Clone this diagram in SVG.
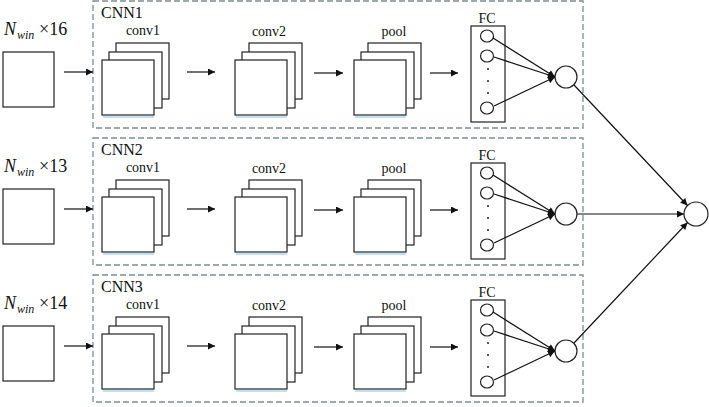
<svg xmlns="http://www.w3.org/2000/svg" width="709" height="407" viewBox="0 0 709 407">
<style>
text{font-family:"Liberation Serif","Times New Roman",serif;fill:#111}
.lbl{font-size:14px;text-anchor:middle}
.cnn{font-size:16px}
.big{font-size:18px}
.sub{font-size:12px;font-style:italic}
.it{font-style:italic}
.box{fill:#fff;stroke:#222;stroke-width:1.2}
.dash{fill:none;stroke:#7d8e92;stroke-width:1.3;stroke-dasharray:6 3}
.ln{stroke:#111;stroke-width:1.2;fill:none}
.sh{stroke:#bfe0f5;stroke-width:2;fill:none}
.dot{fill:#222}
</style>
<defs>
<marker id="ah" viewBox="0 0 10 10" refX="10" refY="5" markerWidth="9" markerHeight="7" markerUnits="userSpaceOnUse" orient="auto">
<path d="M0,0 L10,5 L0,10 z" fill="#111"/>
</marker>
<g id="stack">
<rect class="box" x="14" y="-17" width="53" height="56"/>
<rect class="box" x="7" y="-8" width="53" height="56"/>
<line class="sh" x1="1" y1="57" x2="52" y2="57"/>
<rect class="box" x="0" y="0" width="52" height="55"/>
</g>
<g id="fcnode">
<rect class="box" x="471" y="26" width="34" height="96"/>
<ellipse class="box" cx="487" cy="36" rx="6.5" ry="6"/>
<ellipse class="box" cx="487" cy="56" rx="6.5" ry="6"/>
<ellipse class="box" cx="487" cy="108" rx="6.5" ry="6"/>
<circle class="dot" cx="488" cy="69" r="1"/>
<circle class="dot" cx="488" cy="81" r="1"/>
<circle class="dot" cx="488" cy="93" r="1"/>
</g>
</defs>

<!-- Row 1 -->
<g id="row1">
<g id="cnn1"><rect class="dash" x="93" y="1" width="490" height="127"/><text class="cnn" x="101" y="18">CNN1</text></g>
<g id="input1"><rect class="box" x="3" y="52" width="51" height="55"/><text class="big it" x="4" y="35">N</text><text class="sub" x="17" y="39">win</text><text class="big" x="39" y="35">×16</text></g>
<g id="conv1-1"><use href="#stack" x="102" y="60"/><text class="lbl" x="143" y="35">conv1</text></g>
<g id="conv2-1"><use href="#stack" x="235" y="60"/><text class="lbl" x="269" y="36">conv2</text></g>
<g id="pool-1"><use href="#stack" x="354" y="60"/><text class="lbl" x="394" y="36">pool</text></g>
<g id="fc-1"><use href="#fcnode"/><text class="lbl" x="487" y="23">FC</text></g>
<g id="out-1"><circle class="box" cx="566" cy="77" r="11"/></g>
</g>

<g id="row2" transform="translate(0,137)">
<g id="cnn2"><rect class="dash" x="93" y="1" width="490" height="127"/><text class="cnn" x="101" y="18">CNN2</text></g>
<g id="input2"><rect class="box" x="3" y="52" width="51" height="55"/><text class="big it" x="4" y="35">N</text><text class="sub" x="17" y="39">win</text><text class="big" x="39" y="35">×13</text></g>
<g id="conv1-2"><use href="#stack" x="102" y="60"/><text class="lbl" x="143" y="35">conv1</text></g>
<g id="conv2-2"><use href="#stack" x="235" y="60"/><text class="lbl" x="269" y="36">conv2</text></g>
<g id="pool-2"><use href="#stack" x="354" y="60"/><text class="lbl" x="394" y="36">pool</text></g>
<g id="fc-2"><use href="#fcnode"/><text class="lbl" x="487" y="23">FC</text></g>
<g id="out-2"><circle class="box" cx="566" cy="77" r="11"/></g>
</g>

<g id="row3" transform="translate(0,274)">
<g id="cnn3"><rect class="dash" x="93" y="1" width="490" height="127"/><text class="cnn" x="101" y="18">CNN3</text></g>
<g id="input3"><rect class="box" x="3" y="52" width="51" height="55"/><text class="big it" x="4" y="35">N</text><text class="sub" x="17" y="39">win</text><text class="big" x="39" y="35">×14</text></g>
<g id="conv1-3"><use href="#stack" x="102" y="60"/><text class="lbl" x="143" y="35">conv1</text></g>
<g id="conv2-3"><use href="#stack" x="235" y="60"/><text class="lbl" x="269" y="36">conv2</text></g>
<g id="pool-3"><use href="#stack" x="354" y="60"/><text class="lbl" x="394" y="36">pool</text></g>
<g id="fc-3"><use href="#fcnode"/><text class="lbl" x="487" y="23">FC</text></g>
<g id="out-3"><circle class="box" cx="566" cy="77" r="11"/></g>
</g>

<g id="final"><circle class="box" cx="696" cy="214" r="12"/></g>

<g id="connectors">
<g id="conn-r1">
<line class="ln" x1="64" y1="72" x2="93" y2="72" marker-end="url(#ah)"/>
<line class="ln" x1="187" y1="72" x2="215" y2="72" marker-end="url(#ah)"/>
<line class="ln" x1="314" y1="73" x2="343" y2="73" marker-end="url(#ah)"/>
<line class="ln" x1="430" y1="73" x2="458" y2="73" marker-end="url(#ah)"/>
<line class="ln" x1="493" y1="38" x2="555" y2="77" marker-end="url(#ah)"/>
<line class="ln" x1="494" y1="57" x2="555" y2="77" marker-end="url(#ah)"/>
<line class="ln" x1="494" y1="106" x2="555" y2="77" marker-end="url(#ah)"/>
</g>
<g id="conn-r2" transform="translate(0,137)">
<line class="ln" x1="64" y1="72" x2="93" y2="72" marker-end="url(#ah)"/>
<line class="ln" x1="187" y1="72" x2="215" y2="72" marker-end="url(#ah)"/>
<line class="ln" x1="314" y1="73" x2="343" y2="73" marker-end="url(#ah)"/>
<line class="ln" x1="430" y1="73" x2="458" y2="73" marker-end="url(#ah)"/>
<line class="ln" x1="493" y1="38" x2="555" y2="77" marker-end="url(#ah)"/>
<line class="ln" x1="494" y1="57" x2="555" y2="77" marker-end="url(#ah)"/>
<line class="ln" x1="494" y1="106" x2="555" y2="77" marker-end="url(#ah)"/>
</g>
<g id="conn-r3" transform="translate(0,274)">
<line class="ln" x1="64" y1="72" x2="93" y2="72" marker-end="url(#ah)"/>
<line class="ln" x1="187" y1="72" x2="215" y2="72" marker-end="url(#ah)"/>
<line class="ln" x1="314" y1="73" x2="343" y2="73" marker-end="url(#ah)"/>
<line class="ln" x1="430" y1="73" x2="458" y2="73" marker-end="url(#ah)"/>
<line class="ln" x1="493" y1="38" x2="555" y2="77" marker-end="url(#ah)"/>
<line class="ln" x1="494" y1="57" x2="555" y2="77" marker-end="url(#ah)"/>
<line class="ln" x1="494" y1="106" x2="555" y2="77" marker-end="url(#ah)"/>
</g>
<line class="ln" x1="574" y1="85" x2="687.5" y2="205.5" marker-end="url(#ah)"/>
<line class="ln" x1="577" y1="214" x2="684" y2="214" marker-end="url(#ah)"/>
<line class="ln" x1="574" y1="343" x2="687.5" y2="222.5" marker-end="url(#ah)"/>
</g>
</svg>
